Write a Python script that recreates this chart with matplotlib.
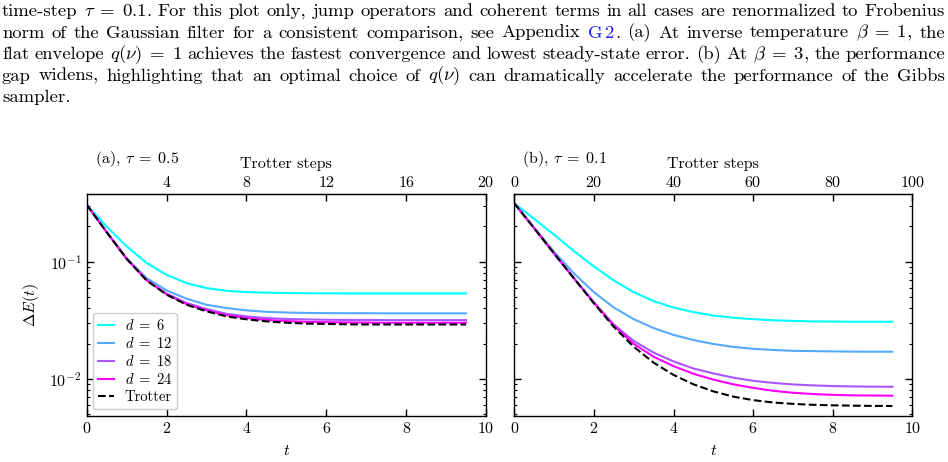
import matplotlib
matplotlib.use('Agg')
import matplotlib.pyplot as plt
import numpy as np

plt.rcParams['font.family'] = 'serif'
plt.rcParams['font.serif'] = ['cmr10']
plt.rcParams['mathtext.fontset'] = 'cm'
plt.rcParams['axes.formatter.use_mathtext'] = True
plt.rcParams['axes.unicode_minus'] = False

# time grid (t = step * tau), same sampling for both panels
t = [0.0, 0.5, 1.0, 1.5, 2.0, 2.5, 3.0, 3.5, 4.0, 4.5,
     5.0, 5.5, 6.0, 6.5, 7.0, 7.5, 8.0, 8.5, 9.0, 9.5]

labels = [r'$d\;=\;6$', r'$d\;=\;12$', r'$d\;=\;18$', r'$d\;=\;24$']

# (a) tau = 0.5
a_d6 = [0.306, 0.1995, 0.1355, 0.0977, 0.0773, 0.0658, 0.0596, 0.0565, 0.0551, 0.0545,
        0.0541, 0.0539, 0.0538, 0.0537, 0.0537, 0.0537, 0.0537, 0.0537, 0.0537, 0.0537]
a_d12 = [0.306, 0.179, 0.107, 0.0726, 0.0570, 0.0484, 0.0430, 0.0403, 0.0385, 0.0374,
         0.0369, 0.0366, 0.0365, 0.0364, 0.0364, 0.0363, 0.0363, 0.0363, 0.0363, 0.0363]
a_d18 = [0.306, 0.179, 0.106, 0.0700, 0.0535, 0.0445, 0.0395, 0.0360, 0.0342, 0.0331,
         0.0325, 0.0322, 0.0320, 0.0319, 0.0319, 0.0318, 0.0318, 0.0318, 0.0318, 0.0318]
a_d24 = [0.306, 0.179, 0.106, 0.0695, 0.0528, 0.0436, 0.0385, 0.0350, 0.0331, 0.0319,
         0.0312, 0.0307, 0.0305, 0.0304, 0.0303, 0.0302, 0.0302, 0.0302, 0.0302, 0.0302]
a_trot = [0.306, 0.179, 0.106, 0.0693, 0.0524, 0.0430, 0.0378, 0.0342, 0.0323, 0.0310,
          0.0302, 0.0297, 0.0295, 0.0293, 0.0292, 0.0292, 0.0292, 0.0292, 0.0292, 0.0292]

# (b) tau = 0.1
b_d6 = [0.315, 0.232, 0.170, 0.123, 0.0912, 0.0692, 0.0550, 0.0462, 0.0407, 0.0372,
        0.0348, 0.0333, 0.0324, 0.0317, 0.0313, 0.0310, 0.0309, 0.0308, 0.0308, 0.0308]
b_d12 = [0.315, 0.195, 0.1216, 0.0794, 0.0550, 0.0407, 0.0324, 0.0272, 0.0238, 0.0215,
         0.0199, 0.0188, 0.0181, 0.0177, 0.0174, 0.0173, 0.0172, 0.01714, 0.0171, 0.0171]
b_d18 = [0.315, 0.193, 0.1175, 0.0724, 0.0452, 0.0292, 0.02113, 0.0168, 0.01413, 0.0123,
         0.01117, 0.01028, 0.00966, 0.00927, 0.00899, 0.00883, 0.00871, 0.00865, 0.00861, 0.00859]
b_d24 = [0.315, 0.193, 0.1175, 0.0721, 0.0447, 0.0285, 0.01995, 0.0155, 0.01288, 0.01109,
         0.00989, 0.00902, 0.00841, 0.00794, 0.00764, 0.00745, 0.00733, 0.00726, 0.00723, 0.00721]
b_trot = [0.315, 0.193, 0.1175, 0.0721, 0.0442, 0.0279, 0.01884, 0.0138, 0.01084, 0.00902,
          0.00785, 0.00708, 0.00661, 0.00631, 0.00614, 0.00603, 0.00597, 0.00593, 0.0059, 0.00589]

top_ticks_a = [4, 8, 12, 16, 20]
top_ticks_b = [0, 20, 40, 60, 80, 100]

caption = [
    ['time-step', r'$\tau\;=\;0.1$.', 'For', 'this', 'plot', 'only,', 'jump', 'operators', 'and',
     'coherent', 'terms', 'in', 'all', 'cases', 'are', 'renormalized', 'to', 'Frobenius'],
    ['norm', 'of', 'the', 'Gaussian', 'filter', 'for', 'a', 'consistent', 'comparison,', 'see',
     'Appendix', 'G2.', '(a)', 'At', 'inverse', 'temperature', r'$\beta\;=\;1$,', 'the'],
    ['flat', 'envelope', r'$q(\nu)\;=\;1$', 'achieves', 'the', 'fastest', 'convergence', 'and',
     'lowest', 'steady-state', 'error.', '(b)', 'At', r'$\beta\;=\;3$,', 'the', 'performance'],
    ['gap', 'widens,', 'highlighting', 'that', 'an', 'optimal', 'choice', 'of', r'$q(\nu)$', 'can',
     'dramatically', 'accelerate', 'the', 'performance', 'of', 'the', 'Gibbs'],
    ['sampler.'],
]

colors = [plt.cm.cool(v) for v in [0.0, 1 / 3, 2 / 3, 1.0]]

W, H = 948, 462
fig = plt.figure(figsize=(W / 100, H / 100), dpi=100)
renderer = fig.canvas.get_renderer()

# justified caption at the top; font size picked so line 1 fits with normal spacing
x_left, x_right = 2, 945
baselines = [16, 37.5, 59, 80.5, 102]


def make_words(words, fs):
    pieces = []
    for w in words:
        if w == 'G2.':
            segs = [('G$\\,$2', '#1515ff'), ('.', 'black')]
        else:
            segs = [(w, 'black')]
        pieces.append([fig.text(0, 0, s, fontsize=fs, color=c, va='baseline', ha='left')
                       for s, c in segs])
    return pieces


probe = make_words(caption[0], 10)
w10 = sum(o.get_window_extent(renderer).width for objs in probe for o in objs)
for objs in probe:
    for o in objs:
        o.remove()
n_gaps = len(caption[0]) - 1
cap_fs = 10 * (x_right - x_left) / (w10 + n_gaps * 0.32 * 10 * 100 / 72)

for li, words in enumerate(caption):
    pieces = make_words(words, cap_fs)
    widths = [[o.get_window_extent(renderer).width for o in objs] for objs in pieces]
    total = sum(sum(w) for w in widths)
    if li < len(caption) - 1:
        gap = (x_right - x_left - total) / (len(pieces) - 1)
    else:
        gap = 4
    x = x_left
    yb = 1 - baselines[li] / H
    for objs, ws in zip(pieces, widths):
        for o, w in zip(objs, ws):
            o.set_position((x / W, yb))
            x += w
        x += gap

# axes placement (pixels -> figure fraction)
ax_a = fig.add_axes([86.7 / W, 46 / H, 399.3 / W, 222 / H])
ax_b = fig.add_axes([514.3 / W, 46 / H, 398 / W, 222 / H])

panels = [
    (ax_a, [a_d6, a_d12, a_d18, a_d24], a_trot, 0.5, top_ticks_a, r'(a), $\tau\;=\;0.5$'),
    (ax_b, [b_d6, b_d12, b_d18, b_d24], b_trot, 0.1, top_ticks_b, r'(b), $\tau\;=\;0.1$'),
]

fs = 11.5
for ax, series, trot, tau, tticks, title in panels:
    for vals, c, lab in zip(series, colors, labels):
        ax.plot(t, vals, color=c, lw=1.5, label=lab)
    ax.plot(t, trot, color='black', lw=1.5, ls='--', label='Trotter')
    ax.set_yscale('log')
    ax.set_xlim(0, 10)
    ax.set_ylim(0.00484, 0.378)
    ax.set_xticks([0, 2, 4, 6, 8, 10])
    ax.tick_params(which='both', direction='in', right=True, top=False, labelsize=fs)
    ax.tick_params(which='major', length=5, width=1)
    ax.tick_params(which='minor', length=2.5, width=0.8)
    ax.set_xlabel('$t$', fontsize=fs, labelpad=6)
    for sp in ax.spines.values():
        sp.set_linewidth(1)

    sec = ax.secondary_xaxis('top', functions=(lambda x, tau=tau: x / tau,
                                               lambda s, tau=tau: s * tau))
    sec.set_xticks(tticks)
    sec.tick_params(direction='in', length=5, width=1, labelsize=fs, pad=3)
    sec.set_xlabel('Trotter steps', fontsize=fs, labelpad=5)
    ax.annotate(title, xy=(0.02, 1), xycoords='axes fraction', xytext=(0, 22),
                textcoords='offset points', fontsize=fs, ha='left', va='baseline')

ax_a.set_ylabel(r'$\Delta E(t)$', fontsize=fs, labelpad=6)
ax_b.tick_params(labelleft=False)

ax_a.legend(loc='lower left', fontsize=10.5, handlelength=1.1, handletextpad=0.7,
            labelspacing=0.22, borderpad=0.35, borderaxespad=0.45,
            framealpha=1, edgecolor='0.8')

fig.savefig('out.png', dpi=100)
